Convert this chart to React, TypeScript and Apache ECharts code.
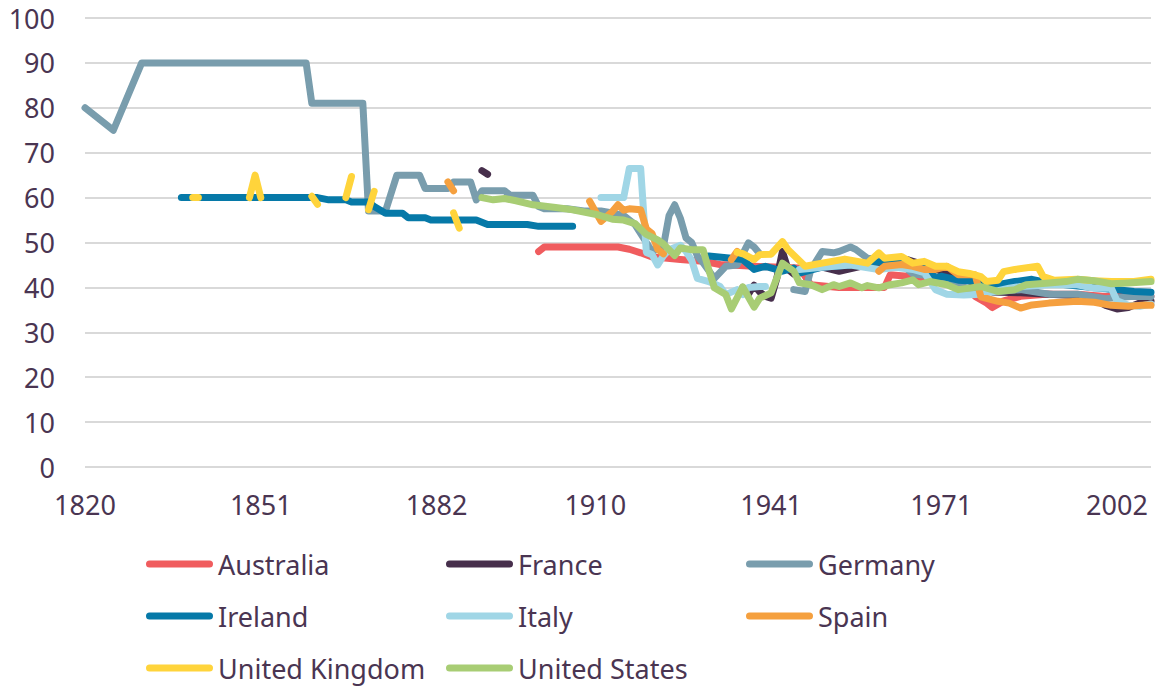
import React, { useEffect, useRef } from "react";
import * as echarts from "echarts";

type Pt = [number, number | null];

const countries = [
  "Australia",
  "France",
  "Germany",
  "Ireland",
  "Italy",
  "Spain",
  "United Kingdom",
  "United States",
];

const colors = [
  "#F05C5E",
  "#472F4C",
  "#799DAD",
  "#0679A8",
  "#A0D6E6",
  "#F5A03F",
  "#FFD43B",
  "#A8CD74",
];

const xLabelYears = [1820, 1851, 1882, 1910, 1941, 1971, 2002];
const yTicks = [0, 10, 20, 30, 40, 50, 60, 70, 80, 90, 100];

const australia: Pt[] = [
  [1900, 48], [1901, 49], [1905, 49], [1910, 49], [1914, 49], [1916, 48.5],
  [1918, 47.7], [1920, 46.8], [1925, 46.2], [1929, 45.8], [1932, 45.1],
  [1938, 44.7], [1946, 44.3], [1948, 40.6], [1953, 40], [1961, 40],
  [1962, 42.8], [1965, 42.5], [1970, 42], [1974, 41], [1977, 38],
  [1979, 36.5], [1980, 35.5], [1982, 37], [1985, 38], [1990, 38.5],
  [1995, 38.5], [2000, 38], [2005, 38.5], [2008, 38],
];

const france: Pt[] = [
  [1890, 66], [1891, 65.2], [1892, null],
  [1936, 40], [1937, 38.5], [1938, 40.5], [1939, 39], [1940, 38],
  [1941, 37.6], [1942, 42], [1943, 48], [1944, 44], [1945, 43], [1946, 44],
  [1950, 44.5], [1953, 43.6], [1958, 45], [1962, 45.5], [1965, 46.2],
  [1968, 45], [1970, 44], [1975, 42], [1980, 39], [1985, 38.8], [1990, 38.5],
  [1997, 38], [2000, 36], [2002, 35.2], [2004, 35.5], [2006, 36.5], [2008, 37],
];

const germany: Pt[] = [
  [1820, 80], [1825, 75], [1830, 90], [1859, 90], [1860, 81], [1869, 81],
  [1870, 57], [1873, 57], [1875, 65], [1879, 65], [1880, 62], [1884, 62],
  [1885, 63.5], [1888, 63.5], [1889, 59.5], [1890, 61.5], [1894, 61.5],
  [1895, 60.5], [1899, 60.5], [1900, 58], [1901, 57.5], [1905, 57.5],
  [1908, 57], [1911, 57], [1913, 56.6], [1915, 56], [1917, 54], [1919, 50],
  [1920, 48], [1922, 49.1], [1923, 56], [1924, 58.4], [1925, 55.4],
  [1926, 51], [1927, 50], [1928, 47], [1929, 45.5], [1931, 42], [1933, 44.7],
  [1935, 45], [1937, 49.9], [1938, 49], [1939, 47.5], [1940, null],
  [1945, 39.5], [1947, 39.1], [1948, 43.9], [1950, 48], [1952, 47.7],
  [1953, 48], [1955, 49], [1956, 48.4], [1958, 46.5], [1963, 46.2],
  [1966, 43], [1970, 42.5], [1975, 40], [1980, 39], [1985, 39.5],
  [1990, 38.5], [1995, 38.5], [2000, 37.5], [2005, 38], [2008, 38],
];

const ireland: Pt[] = [
  [1837, 60], [1861, 60], [1863, 59.5], [1866, 59.5], [1867, 59],
  [1870, 59], [1871, 58], [1873, 56.5], [1876, 56.5], [1877, 55.5],
  [1880, 55.5], [1881, 55], [1889, 55], [1891, 54], [1898, 54],
  [1900, 53.6], [1906, 53.6], [1907, null],
  [1930, 47], [1934, 46.5], [1936, 46.2], [1938, 44], [1940, 44.7],
  [1943, 43.6], [1945, 44.3], [1946, 43.2], [1950, 44.5], [1955, 45],
  [1961, 45.8], [1964, 46], [1966, 44.7], [1968, 45], [1970, 42],
  [1971, 42.5], [1974, 41.6], [1978, 41.3], [1981, 40.6], [1984, 41.3],
  [1987, 41.8], [1990, 41], [1993, 40.6], [1996, 40.2], [1999, 39.8],
  [2002, 39.5], [2005, 39.1], [2008, 38.9],
];

const italy: Pt[] = [
  [1911, 60], [1915, 60], [1916, 66.5], [1918, 66.5], [1919, 47.8],
  [1920, 47.3], [1921, 45], [1922, 47], [1923, 48.4], [1925, 49.4],
  [1926, 48], [1927, 46], [1928, 42], [1930, 41.3], [1932, 40.2],
  [1933, 38.4], [1935, 39.5], [1936, 38.4], [1937, 40], [1939, 40.2],
  [1940, 40.2], [1941, null],
  [1946, 44], [1950, 44.5], [1955, 45], [1960, 44], [1963, 44.5],
  [1966, 44], [1968, 43.3], [1970, 39.5], [1972, 38.5], [1975, 38.3],
  [1978, 38.5], [1980, 39], [1983, 39.8], [1985, 40.2], [1990, 40.6],
  [1995, 40.6], [1998, 39.8], [2001, 39.8], [2002, 37], [2004, 36],
  [2006, 35.8], [2008, 36.3],
];

const spain: Pt[] = [
  [1884, 63.5], [1885, 61.5], [1886, null],
  [1909, 59.2], [1911, 54.7], [1913, 56.9], [1914, 58.4], [1915, 57.2],
  [1916, 57.5], [1918, 57.3], [1919, 53], [1920, 52], [1921, 48.5],
  [1922, 47.5], [1923, null],
  [1934, 46.2], [1935, 48], [1936, null],
  [1960, 43.6], [1961, 44.7], [1964, 45.1], [1966, 44.7], [1968, 44],
  [1970, 44], [1972, 44.7], [1974, 42.8], [1977, 42.8], [1978, 37.9],
  [1981, 36.9], [1983, 36.5], [1985, 35.4], [1987, 36.1], [1990, 36.5],
  [1995, 36.9], [1998, 36.7], [2001, 36], [2004, 35.8], [2007, 36.1],
  [2008, 36],
];

const unitedKingdom: Pt[] = [
  [1839, 60], [1840, 60], [1841, null],
  [1849, 60], [1850, 65], [1851, 60], [1852, null],
  [1860, 60.3], [1861, 58.5], [1862, null],
  [1866, 60], [1867, 64.7], [1868, null],
  [1870, 57.3], [1871, 61.4], [1872, null],
  [1885, 56.6], [1886, 53.2], [1887, null],
  [1935, 47.8], [1936, 47.5], [1938, 46.2], [1939, 47.3], [1941, 47.4],
  [1943, 50.2], [1944, 48.4], [1947, 44.7], [1950, 45.4], [1954, 46.3],
  [1958, 45.4], [1960, 47.7], [1961, 46.5], [1964, 46.9], [1966, 45.4],
  [1968, 45.8], [1970, 44.7], [1972, 44.7], [1974, 43.5], [1976, 43.1],
  [1978, 42.4], [1979, 41.3], [1981, 41.6], [1982, 43.5], [1984, 44],
  [1988, 44.7], [1989, 42.4], [1991, 41.6], [1995, 41.8], [1998, 41.5],
  [2001, 41.3], [2005, 41.3], [2008, 41.8],
];

const unitedStates: Pt[] = [
  [1890, 60], [1892, 59.5], [1894, 59.8], [1896, 59.3], [1899, 58.4],
  [1903, 57.8], [1906, 57.3], [1910, 56.3], [1913, 55.2], [1915, 55],
  [1917, 54.2], [1919, 51.8], [1921, 50.6], [1922, 49.7], [1924, 47.1],
  [1925, 48.8], [1927, 48.4], [1929, 48.4], [1930, 44], [1931, 39.9],
  [1933, 38.4], [1934, 35.2], [1936, 40.1], [1938, 35.6], [1939, 37.6],
  [1941, 38.8], [1943, 45.4], [1945, 43.6], [1946, 41], [1948, 40.6],
  [1950, 39.5], [1952, 40.6], [1953, 40.2], [1955, 41], [1957, 39.9],
  [1958, 40.4], [1960, 39.9], [1962, 40.6], [1964, 41], [1966, 41.7],
  [1967, 40.6], [1969, 41.3], [1972, 40.6], [1974, 39.5], [1978, 40.2],
  [1981, 39.1], [1984, 39.5], [1986, 40.6], [1990, 41], [1993, 41.3],
  [1995, 41.8], [1998, 41.5], [2001, 40.8], [2004, 41], [2008, 41.3],
];

const seriesData: Pt[][] = [
  australia,
  france,
  germany,
  ireland,
  italy,
  spain,
  unitedKingdom,
  unitedStates,
];

const legendColumns = [
  ["Australia", "Ireland", "United Kingdom"],
  ["France", "Italy", "United States"],
  ["Germany", "Spain"],
];

const TEXT_COLOR = "#4a3552";
const FONT = "'Noto Sans', 'Open Sans', sans-serif";
const CAPSULE =
  "path://M3.5,0 L63.5,0 A3.5,3.5 0 0 1 63.5,7 L3.5,7 A3.5,3.5 0 0 1 3.5,0 Z";

export default function App() {
  const ref = useRef<HTMLDivElement>(null);

  useEffect(() => {
    if (!ref.current) return;
    const chart = echarts.init(ref.current, undefined, { renderer: "svg" });

    const option: any = {
      animation: false,
      backgroundColor: "#ffffff",
      textStyle: { fontFamily: FONT },
      grid: { left: 85, right: 5, top: 18, bottom: 224, containLabel: false },
      xAxis: {
        type: "value",
        min: 1820,
        max: 2008,
        interval: 1,
        axisLine: { show: false },
        axisTick: { show: false },
        splitLine: { show: false },
        axisLabel: {
          show: true,
          color: TEXT_COLOR,
          fontSize: 27,
          fontFamily: FONT,
          margin: 24,
          formatter: (v: number) => (xLabelYears.includes(v) ? String(v) : ""),
        },
      },
      yAxis: {
        type: "value",
        min: yTicks[0],
        max: yTicks[yTicks.length - 1],
        interval: 10,
        axisLine: { show: false },
        axisTick: { show: false },
        axisLabel: {
          color: TEXT_COLOR,
          fontSize: 27,
          fontFamily: FONT,
          margin: 30,
        },
        splitLine: { show: true, lineStyle: { color: "#d9d9d9", width: 2 } },
      },
      legend: legendColumns.map((col, i) => ({
        data: col.map((name) => ({ name, icon: CAPSULE })),
        orient: "vertical",
        left: 146 + i * 300,
        top: 549,
        padding: 0,
        itemWidth: 67,
        itemHeight: 7,
        itemGap: 22,
        selectedMode: false,
        itemStyle: { borderWidth: 0 },
        textStyle: {
          color: TEXT_COLOR,
          fontSize: 27,
          fontFamily: FONT,
          lineHeight: 30,
        },
      })),
      series: countries.map((name, i) => ({
        name,
        type: "line",
        data: seriesData[i],
        symbol: "none",
        showSymbol: false,
        connectNulls: false,
        color: colors[i],
        lineStyle: { width: 7, color: colors[i], cap: "round", join: "round" },
        itemStyle: { color: colors[i] },
        emphasis: { disabled: true },
        z: 2 + i,
      })),
    };

    chart.setOption(option);
    return () => chart.dispose();
  }, []);

  return (
    <div
      ref={ref}
      style={{ position: "fixed", left: 0, top: 0, width: 1156, height: 691 }}
    />
  );
}
